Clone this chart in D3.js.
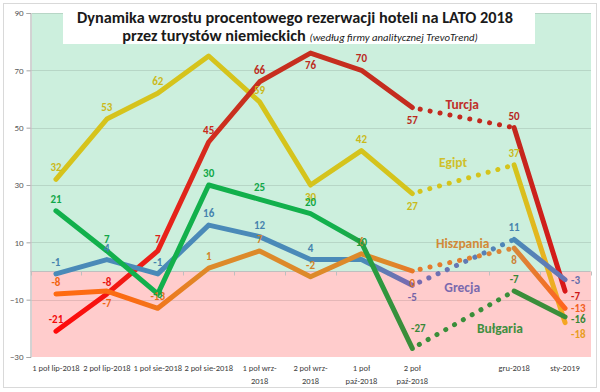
<!DOCTYPE html>
<html><head><meta charset="utf-8">
<script src="https://cdn.jsdelivr.net/npm/d3@7"></script>
<style>body{margin:0;background:#fff}svg{display:block}</style>
</head><body>
<svg id="c" width="600" height="392"></svg>
<script>
// ---------- data ----------
const categories = ["1 poł lip-2018","2 poł lip-2018","1 poł sie-2018","2 poł sie-2018","1 poł wrz-\n2018","2 poł wrz-\n2018","1 poł\npaź-2018","2 poł\npaź-2018","","gru-2018","sty-2019"];
const turcja    = [-21,-8,7,45,66,76,70,57,null,50,-7];
const egipt     = [32,53,62,75,59,30,42,27,null,37,-18];
const grecja    = [-1,4,-1,16,12,4,4,-5,null,11,-3];
const hiszpania = [-8,-7,-13,1,7,-2,6,0,null,8,-13];
const bulgaria  = [21,7,-8,30,25,20,10,-27,null,-7,-16];
const yTicks = [-30,-10,10,30,50,70,90];
const titleLine1 = "Dynamika wzrostu procentowego rezerwacji hoteli na LATO 2018";
const titleLine2a = "przez turystów niemieckich ";
const titleLine2b = "(według firmy analitycznej TrevoTrend)";

// ---------- styles ----------
const FONT = "Carlito, Calibri, Lato, sans-serif";
const series = [
  {name:"Egipt", values:egipt,
   stops:[[0,"#d6c31c"],[0.9,"#d4c41c"],[1,"#f5a623"]],
   labelPos:["a","a","a","","a","b","a","b","","a","r15"],
   nameAt:[7.8,38], nameColor:"#cfc02a"},
  {name:"Turcja", values:turcja,
   stops:[[0,"#ff0a0a"],[0.22,"#e8221a"],[0.35,"#c8301f"],[0.9,"#c2281e"],[1,"#d81818"]],
   labelPos:["a","a","a","a","a","b","a","b","","a","r9"],
   nameAt:[7.98,58.2], nameColor:"#c0302a"},
  {name:"Grecja", values:grecja,
   stops:[[0,"#4a8ab8"],[0.6,"#4a8ab8"],[0.7,"#7a68b0"],[0.9,"#4a8ab8"],[1,"#6a74b4"]],
   labelPos:["a","a","a","a","a","a","","b","","a","r4"],
   nameAt:[7.98,-5.6], nameColor:"#7b6aae"},
  {name:"Hiszpania", values:hiszpania,
   stops:[[0,"#ff6a10"],[0.15,"#fa6c14"],[0.3,"#dd8a2a"],[0.65,"#dd8a2a"],[0.7,"#e87828"],[0.9,"#d8883a"],[1,"#ff6420"]],
   labelPos:["a","b","a","a","a","a","a","b","","b","r4"],
   nameAt:[7.99,9.8], nameColor:"#d28a38"},
  {name:"Bułgaria", values:bulgaria,
   stops:[[0,"#12b04c"],[0.55,"#12b04c"],[0.68,"#3a8e3a"],[1,"#3a8e3a"]],
   labelPos:["a","a","c","a","a","a","c","ar","","a","r6"],
   nameAt:[8.72,-19.9], nameColor:"#3f8f3f"}
];

// ---------- scales ----------
const svg = d3.select("#c");
const x = d3.scaleBand().domain(d3.range(categories.length)).range([30.5, 590.5]);
const cx = i => x.range()[0] + (i + 0.5) * x.step();
const y = d3.scaleLinear().domain([-30, 90]).range([357, 13]);

// outer border
svg.append("rect").attr("x",3.5).attr("y",3.5).attr("width",593).attr("height",384)
  .attr("fill","#fff").attr("stroke","#d9d9d9");

// background bands
svg.append("rect").attr("x",32).attr("y",y(90)).attr("width",559).attr("height",y(0)-y(90)).attr("fill","#ccefdd");
svg.append("rect").attr("x",32).attr("y",y(0)).attr("width",559).attr("height",y(-30)-y(0)).attr("fill","#ffcccc");

// gridlines
svg.append("g").selectAll("line").data(yTicks.filter(t=>t>-30)).join("line")
  .attr("x1",30.5).attr("x2",591).attr("y1",d=>Math.round(y(d))+0.5).attr("y2",d=>Math.round(y(d))+0.5)
  .attr("stroke","rgba(0,0,0,0.1)");

// y axis
const ya = svg.append("g").attr("transform","translate(30.5,0)")
  .call(d3.axisLeft(y).tickValues(yTicks).tickSize(4).tickPadding(3));
ya.select(".domain").attr("stroke","#a6a6a6");
ya.selectAll(".tick line").attr("stroke","#a6a6a6");
ya.selectAll(".tick text").attr("fill","#595959").style("font-family",FONT).style("font-size","9px");

// x axis at zero
const z = Math.round(y(0)) + 0.5;
svg.append("line").attr("x1",30.5).attr("x2",590.5).attr("y1",z).attr("y2",z).attr("stroke","#bfbfbf");
svg.append("g").selectAll("line").data(d3.range(categories.length+1)).join("line")
  .attr("x1",i=>Math.round(x.range()[0]+i*x.step())+0.5).attr("x2",i=>Math.round(x.range()[0]+i*x.step())+0.5)
  .attr("y1",z).attr("y2",z+4).attr("stroke","#bfbfbf");

// category labels
const cl = svg.append("g").selectAll("text").data(categories).join("text")
  .attr("x",(d,i)=>cx(i)).attr("y",371).attr("text-anchor","middle")
  .attr("fill","#404040").style("font-family",FONT).style("font-size","8.5px");
cl.each(function(d,i){
  const t = d3.select(this);
  d.split("\n").forEach((ln,k)=>t.append("tspan").attr("x",cx(i)).attr("dy",k?13:0).text(ln));
});

// gradients
const defs = svg.append("defs");
series.forEach((s,k)=>{
  const g = defs.append("linearGradient").attr("id","g"+k).attr("gradientUnits","userSpaceOnUse")
    .attr("x1",cx(0)).attr("x2",cx(categories.length-1)).attr("y1",0).attr("y2",0);
  s.stops.forEach(st=>g.append("stop").attr("offset",st[0]).attr("stop-color",st[1]));
  s.colorAt = d3.scaleLinear().domain(s.stops.map(st=>st[0]*(categories.length-1))).range(s.stops.map(st=>st[1])).interpolate(d3.interpolateRgb);
});

const line = d3.line().defined(d=>d.v!=null).x(d=>cx(d.i)).y(d=>y(d.v));
series.forEach((s,k)=>{
  const pts = s.values.map((v,i)=>({i,v}));
  const gid = "url(#g"+k+")";
  const last = 7, next = 9;
  svg.append("path").attr("d", d3.line().x(d=>cx(d.i)).y(d=>y(d.v))([pts[last],pts[next]]))
    .attr("fill","none").attr("stroke",gid).attr("stroke-width",5)
    .attr("stroke-linecap","round").attr("stroke-dasharray","0.1 10").attr("stroke-dashoffset",-8);
  svg.append("path").attr("d", line(pts))
    .attr("fill","none").attr("stroke",gid).attr("stroke-width",5)
    .attr("stroke-linejoin","round").attr("stroke-linecap","round");
});

// data labels
series.forEach(s=>{
  s.values.forEach((v,i)=>{
    const p = s.labelPos[i];
    if (v==null || !p) return;
    let tx = cx(i), ty = y(v), anchor = "middle";
    if (p==="a") ty -= 8;
    else if (p==="ar") { tx += 6; ty -= 16; }
    else if (p==="b") ty += 16;
    else if (p==="c") { ty += 4; }
    else if (p[0]==="r") { tx += 6; ty += +p.slice(1); anchor = "start"; }
    svg.append("text").attr("x",tx).attr("y",ty).attr("text-anchor",anchor)
      .attr("fill", d3.color(s.colorAt(i)).darker(0.15))
      .style("font-family",FONT).style("font-size","11px").style("font-weight","bold")
      .text(v);
  });
});

// series names
series.forEach(s=>{
  svg.append("text").attr("x",cx(s.nameAt[0])).attr("y",y(s.nameAt[1])).attr("dy","0.35em")
    .attr("text-anchor","middle").attr("fill",s.nameColor)
    .style("font-family",FONT).style("font-size","13.5px").style("font-weight","bold")
    .text(s.name);
});

// title box
svg.append("rect").attr("x",63).attr("y",6).attr("width",472).attr("height",38).attr("fill","#fff");
const t1 = svg.append("text").attr("x",295).attr("y",23).attr("text-anchor","middle")
  .attr("fill","#1a1a1a").style("font-family",FONT).style("font-weight","bold").style("font-size","15px")
  .text(titleLine1);
const w1 = t1.node().getComputedTextLength();
const fs = 15*436/w1;
t1.style("font-size", fs.toFixed(2)+"px");
const t2 = svg.append("text").attr("x",300).attr("y",41).attr("text-anchor","middle")
  .attr("fill","#1a1a1a").style("font-family",FONT);
t2.append("tspan").style("font-weight","bold").style("font-size",fs.toFixed(2)+"px").text(titleLine2a);
t2.append("tspan").style("font-style","italic").style("font-size",(fs*0.66).toFixed(2)+"px").text(titleLine2b);
</script>
</body></html>
